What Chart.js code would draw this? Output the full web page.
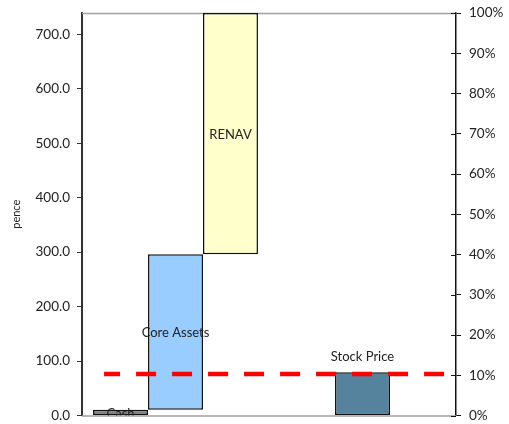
<!DOCTYPE html>
<html>
<head>
<meta charset="utf-8">
<script src="https://cdn.jsdelivr.net/npm/chart.js@4/dist/chart.umd.min.js"></script>
<style>
  html, body { margin: 0; padding: 0; background: #ffffff; }
  #wrap { width: 509px; height: 424px; position: relative; }
</style>
</head>
<body>
<div id="wrap"><canvas id="c"></canvas></div>
<script>
// Group positions on the x axis: 0 = valuation build-up, 1 = market price
const groupPos = [0, 1];

// Floating bars [from, to] in pence, one array per slot within a group
const cashBar   = [[0, 10.5], null];
const middleBar = [[10.5, 296], [0, 79.5]];
const renavBar  = [[296, 739], null];

// Names written on the bars
const cashNames   = ['Cash', null];
const middleNames = ['Core Assets', 'Stock Price'];
const renavNames  = ['RENAV', null];

// Dashed reference level (pence) and its horizontal extent in group units
const refLevel = 76;
const refSpan = [-0.382, 1.436];

// Axis ticks
const penceTicks = [0, 100, 200, 300, 400, 500, 600, 700];
const pctTicks = [0, 10, 20, 30, 40, 50, 60, 70, 80, 90, 100];
const penceMax = 739;

const FONT = 'Lato, "Liberation Sans", sans-serif';
const TEXT = '#222222';

const toPoints = (bars) => bars
  .map((v, i) => (v ? { x: groupPos[i], y: v } : null))
  .filter(p => p);
const namesFor = (bars, names) => bars
  .map((v, i) => (v ? names[i] : undefined))
  .filter(n => n !== undefined);

// Names on the bars: centred inside, or above the bar for the price
const barLabels = {
  id: 'barLabels',
  afterDatasetsDraw(chart) {
    const ctx = chart.ctx;
    const a = chart.chartArea;
    ctx.save();
    ctx.beginPath();
    ctx.rect(a.left, a.top, a.right - a.left, a.bottom - a.top);
    ctx.clip();
    ctx.font = '13px ' + FONT;
    ctx.fillStyle = TEXT;
    ctx.textAlign = 'center';
    chart.data.datasets.forEach((ds, di) => {
      if (!ds.names) return;
      const meta = chart.getDatasetMeta(di);
      meta.data.forEach((bar, i) => {
        const name = ds.names[i];
        if (!name) return;
        if (name === 'Stock Price') {
          ctx.textBaseline = 'alphabetic';
          ctx.fillText(name, bar.x, bar.y - 11);
        } else {
          ctx.textBaseline = 'middle';
          ctx.fillText(name, bar.x, (bar.y + bar.base) / 2 + 1);
        }
      });
    });
    ctx.restore();
  }
};

// Frame lines and the inner half of the right-hand cross ticks
const frame = {
  id: 'frame',
  beforeDatasetsDraw(chart) {
    const ctx = chart.ctx;
    const a = chart.chartArea;
    ctx.save();
    ctx.strokeStyle = '#a0a0a0';
    ctx.lineWidth = 1.5;
    ctx.beginPath();
    ctx.moveTo(a.left, a.top + 0.5);
    ctx.lineTo(a.right, a.top + 0.5);
    ctx.moveTo(a.left, a.bottom + 0.5);
    ctx.lineTo(a.right, a.bottom + 0.5);
    ctx.stroke();
    const y2 = chart.scales.y2;
    ctx.strokeStyle = '#111111';
    ctx.lineWidth = 1;
    ctx.beginPath();
    pctTicks.forEach(v => {
      const y = Math.round(y2.getPixelForValue(v)) + 0.5;
      ctx.moveTo(a.right - 5, y);
      ctx.lineTo(a.right, y);
    });
    ctx.stroke();
    ctx.restore();
  }
};

const barStyle = {
  borderColor: '#111111',
  borderWidth: 1.5,
  borderSkipped: false,
  categoryPercentage: 0.882,
  barPercentage: 1.0,
  order: 1
};

// Keep the tick labels from pushing the plot area inwards
const noLabelOverflow = (scale) => {
  scale.paddingTop = 0;
  scale.paddingBottom = 0;
};

new Chart(document.getElementById('c'), {
  type: 'bar',
  data: {
    datasets: [
      Object.assign({
        label: 'Cash',
        data: toPoints(cashBar),
        backgroundColor: '#808080',
        names: namesFor(cashBar, cashNames)
      }, barStyle),
      Object.assign({
        label: 'Core Assets / Stock Price',
        data: toPoints(middleBar),
        backgroundColor: ['#99ccff', '#55829c'],
        names: namesFor(middleBar, middleNames)
      }, barStyle),
      Object.assign({
        label: 'RENAV',
        data: toPoints(renavBar),
        backgroundColor: '#ffffcc',
        names: namesFor(renavBar, renavNames)
      }, barStyle),
      {
        type: 'line',
        label: 'Reference',
        data: refSpan.map(x => ({ x: x, y: refLevel })),
        borderColor: '#ff0000',
        borderWidth: 4.5,
        borderDash: [20, 16],
        borderDashOffset: 4,
        borderCapStyle: 'butt',
        pointRadius: 0,
        fill: false,
        order: 0
      }
    ]
  },
  options: {
    responsive: true,
    maintainAspectRatio: false,
    animation: false,
    layout: { padding: { top: 13, bottom: 8.5, left: 0, right: 0 } },
    plugins: {
      legend: { display: false },
      tooltip: { enabled: false }
    },
    scales: {
      x: {
        type: 'linear',
        display: false,
        offset: false,
        min: -0.5,
        max: 1.5,
        afterBuildTicks(scale) {
          scale.ticks = groupPos.map(v => ({ value: v }));
        }
      },
      y: {
        position: 'left',
        min: 0,
        max: penceMax,
        afterBuildTicks(scale) {
          scale.ticks = penceTicks.map(v => ({ value: v }));
        },
        afterFit(scale) { scale.width = 82; noLabelOverflow(scale); },
        border: { display: true, color: '#333333', width: 2 },
        grid: {
          drawOnChartArea: false,
          drawTicks: true,
          tickLength: 5,
          color: '#333333',
          lineWidth: 1
        },
        ticks: {
          padding: 7,
          color: TEXT,
          font: { family: FONT, size: 13.5 },
          callback: v => Number(v).toFixed(1)
        },
        title: {
          display: true,
          text: 'pence',
          color: TEXT,
          font: { family: FONT, size: 11 },
          padding: { top: 10, bottom: 0 }
        }
      },
      y2: {
        position: 'right',
        min: 0,
        max: 100,
        afterBuildTicks(scale) {
          scale.ticks = pctTicks.map(v => ({ value: v }));
        },
        afterFit(scale) { scale.width = 53; noLabelOverflow(scale); },
        border: { display: true, color: '#111111', width: 1.5 },
        grid: {
          drawOnChartArea: false,
          drawTicks: true,
          tickLength: 5,
          color: '#111111',
          lineWidth: 1
        },
        ticks: {
          padding: 8,
          color: TEXT,
          font: { family: FONT, size: 13.5 },
          callback: v => v + '%'
        }
      }
    }
  },
  plugins: [frame, barLabels]
});
</script>
</body>
</html>
